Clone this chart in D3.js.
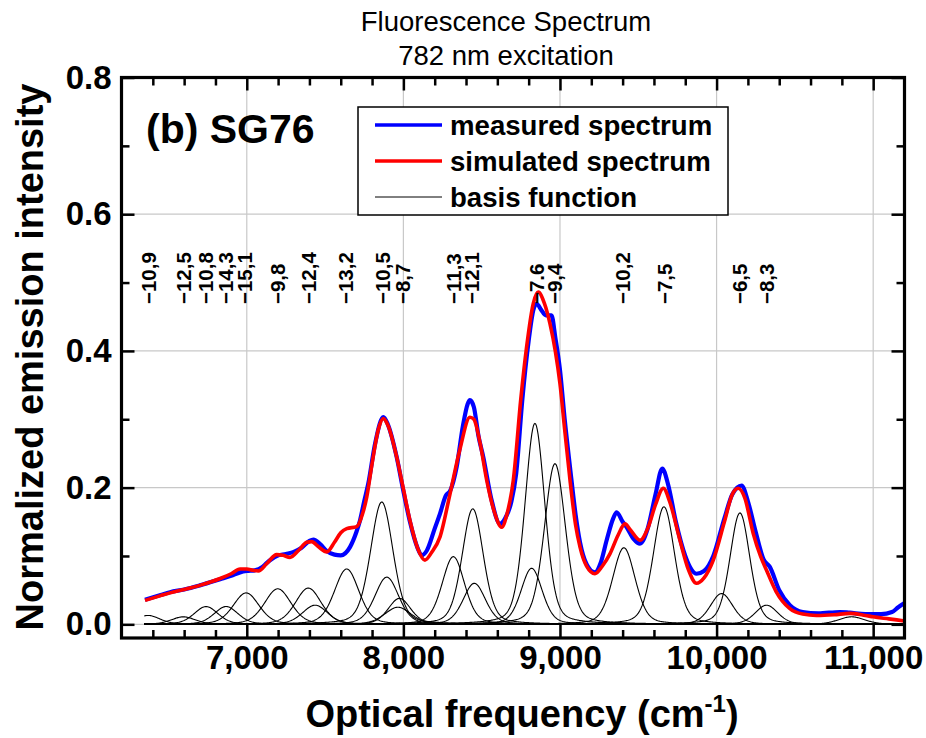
<!DOCTYPE html>
<html><head><meta charset="utf-8">
<script src="https://cdn.jsdelivr.net/npm/d3@7"></script>
<style>
body{margin:0;background:#fff}
text{font-family:"Liberation Sans",Arial,Helvetica,sans-serif;fill:#000}
</style>
</head><body>
<svg id="c" width="926" height="738"></svg>
<script>
// ---- data ----
const measured = [[6350,0.036],[6450,0.043],[6510,0.047],[6600,0.051],[6700,0.057],[6830,0.066],[6900,0.071],[6957,0.076],[7000,0.078],[7050,0.079],[7100,0.084],[7128,0.090],[7191,0.100],[7250,0.103],[7300,0.106],[7350,0.112],[7400,0.122],[7425,0.124],[7470,0.117],[7511,0.107],[7560,0.102],[7600,0.101],[7659,0.113],[7700,0.135],[7723,0.152],[7750,0.180],[7776,0.206],[7820,0.265],[7872,0.303],[7900,0.293],[7957,0.245],[8000,0.195],[8042,0.150],[8090,0.112],[8117,0.101],[8150,0.108],[8200,0.140],[8234,0.162],[8270,0.188],[8300,0.196],[8340,0.230],[8380,0.290],[8410,0.322],[8425,0.328],[8450,0.318],[8480,0.275],[8510,0.245],[8560,0.185],[8617,0.147],[8650,0.155],[8690,0.180],[8720,0.220],[8760,0.330],[8800,0.415],[8830,0.460],[8851,0.469],[8880,0.460],[8910,0.452],[8946,0.452],[8970,0.420],[9000,0.372],[9030,0.300],[9064,0.230],[9100,0.160],[9128,0.120],[9170,0.088],[9223,0.076],[9260,0.090],[9298,0.123],[9340,0.155],[9362,0.164],[9400,0.150],[9426,0.142],[9470,0.125],[9511,0.118],[9560,0.140],[9610,0.190],[9653,0.228],[9690,0.205],[9740,0.150],[9800,0.100],[9840,0.080],[9872,0.074],[9920,0.078],[9979,0.100],[10050,0.155],[10100,0.190],[10160,0.203],[10200,0.180],[10250,0.135],[10300,0.095],[10340,0.084],[10400,0.050],[10468,0.028],[10550,0.018],[10650,0.016],[10787,0.018],[10850,0.017],[10950,0.015],[11050,0.015],[11120,0.018],[11160,0.025],[11200,0.031]];

const simulated = [[6350,0.035],[6450,0.042],[6510,0.046],[6600,0.051],[6700,0.057],[6830,0.067],[6900,0.074],[6957,0.081],[7000,0.081],[7040,0.079],[7074,0.078],[7128,0.089],[7191,0.102],[7230,0.101],[7276,0.098],[7330,0.108],[7383,0.120],[7415,0.121],[7460,0.113],[7511,0.106],[7560,0.120],[7600,0.134],[7638,0.140],[7702,0.143],[7740,0.162],[7766,0.186],[7800,0.235],[7840,0.285],[7872,0.301],[7900,0.292],[7957,0.245],[8000,0.198],[8042,0.152],[8090,0.112],[8138,0.094],[8180,0.105],[8234,0.128],[8298,0.191],[8360,0.255],[8425,0.303],[8450,0.300],[8490,0.265],[8532,0.211],[8580,0.165],[8628,0.142],[8660,0.160],[8702,0.211],[8750,0.330],[8787,0.406],[8830,0.470],[8861,0.486],[8900,0.470],[8936,0.440],[8970,0.400],[9000,0.352],[9030,0.285],[9064,0.211],[9100,0.145],[9128,0.113],[9170,0.085],[9223,0.074],[9270,0.085],[9319,0.103],[9370,0.130],[9415,0.147],[9450,0.138],[9511,0.123],[9560,0.140],[9610,0.175],[9660,0.199],[9700,0.180],[9766,0.123],[9820,0.080],[9872,0.060],[9920,0.068],[9979,0.094],[10050,0.150],[10100,0.190],[10138,0.199],[10180,0.185],[10234,0.133],[10280,0.100],[10319,0.079],[10380,0.048],[10468,0.023],[10550,0.015],[10638,0.013],[10750,0.014],[10851,0.016],[10950,0.013],[11000,0.011],[11100,0.008],[11200,0.005]];

// basis functions: centre (cm-1), peak height, FWHM (cm-1)
const basisCenters = [6370,6595,6740,6868,6996,7198,7393,7436,7638,7862,7894,7975,7965,8319,8443,8453,8819,8840,8968,9408,9664,10032,10149,10319,10862];
const basisHeights = [0.013,0.011,0.026,0.026,0.046,0.052,0.053,0.028,0.081,0.179,0.069,0.038,0.025,0.099,0.169,0.060,0.082,0.294,0.235,0.112,0.172,0.045,0.163,0.028,0.011];
const basisWidths  = [180,180,180,180,195,200,195,190,185,170,180,170,200,170,160,170,160,150,160,170,160,170,150,170,200];

// peak annotations
const peakLabels = ["\u221210,9","\u221212,5","\u221210,8","\u221214,3","\u221215,1","\u22129,8","\u221212,4","\u221213,2","\u221210,5","\u22128,7","\u221211,3","\u221212,1","\u22127.6","\u22129,4","\u221210,2","\u22127,5","\u22126,5","\u22128,3"];
const peakPositions = [6376,6595,6740,6868,6989,7195,7398,7632,7866,7993,8319,8436,8851,8968,9397,9665,10148,10319];

const xMajorTicks = [7000,8000,9000,10000,11000];
const xMinorTicks = [6400,6600,6800,7200,7400,7600,7800,8200,8400,8600,8800,9200,9400,9600,9800,10200,10400,10600,10800];
const yMajorTicks = [0.0,0.2,0.4,0.6,0.8];
const yMinorTicks = [0.1,0.3,0.5,0.7];

const legendItems = [
  {label:"measured spectrum", color:"#0000ff", width:3.5},
  {label:"simulated spectrum", color:"#ff0000", width:3.5},
  {label:"basis function", color:"#000000", width:1}
];

// ---- drawing ----
const svg = d3.select("#c");
const L = 121.5, R = 904.5, T = 77.5, B = 638;
const x = d3.scaleLinear().domain([6200,11200]).range([L,R]);
const y = d3.scaleLinear().domain([-0.02,0.8]).range([B,T]);

svg.append("rect").attr("width",926).attr("height",738).attr("fill","#fff");

svg.append("defs").append("clipPath").attr("id","clip")
  .append("rect").attr("x",L).attr("y",T).attr("width",R-L).attr("height",B-T);

// grid
const grid = svg.append("g").attr("stroke","#c8c8c8").attr("stroke-width",1.2);
xMajorTicks.forEach(t=>grid.append("line").attr("x1",x(t)).attr("x2",x(t)).attr("y1",T).attr("y2",B));
yMajorTicks.filter(t=>t<0.8).forEach(t=>grid.append("line").attr("x1",L).attr("x2",R).attr("y1",y(t)).attr("y2",y(t)));

const plot = svg.append("g").attr("clip-path","url(#clip)");

// basis functions
const eta = 0.3;
const fGrid = d3.range(6345, 11201, 5);
basisCenters.forEach((c,i)=>{
  const h = basisHeights[i], hw = basisWidths[i]/2;
  const pts = fGrid.map(f=>{
    const u = (f-c)/hw;
    return [f, h*(eta/(1+u*u) + (1-eta)*Math.exp(-Math.LN2*u*u))];
  });
  plot.append("path").datum(pts)
    .attr("fill","none").attr("stroke","#000").attr("stroke-width",1.1)
    .attr("d", d3.line().x(d=>x(d[0])).y(d=>y(d[1])));
});

const line = d3.line().x(d=>x(d[0])).y(d=>y(d[1])).curve(d3.curveMonotoneX);
plot.append("path").datum(measured).attr("fill","none").attr("stroke","#0000ff")
  .attr("stroke-width",4.2).attr("stroke-linejoin","round").attr("d",line);
plot.append("path").datum(simulated).attr("fill","none").attr("stroke","#ff0000")
  .attr("stroke-width",3.6).attr("stroke-linejoin","round").attr("d",line);

// axes
function styleAxis(g){
  g.select(".domain").remove();
  g.selectAll(".tick line").attr("stroke","#000").attr("stroke-width",2.5);
}
const fs = 33;
svg.append("g").attr("transform",`translate(0,${B})`)
  .call(d3.axisBottom(x).tickValues(xMajorTicks).tickSize(-13).tickPadding(8).tickFormat(d3.format(",")))
  .call(styleAxis)
  .selectAll("text").attr("font-size",fs).attr("font-weight","bold").attr("font-family","Liberation Sans, Arial, sans-serif");
svg.append("g").attr("transform",`translate(0,${B})`)
  .call(d3.axisBottom(x).tickValues(xMinorTicks).tickSize(-8).tickFormat(""))
  .call(styleAxis);
svg.append("g").attr("transform",`translate(0,${T})`)
  .call(d3.axisTop(x).tickValues(xMajorTicks).tickSize(-13).tickFormat(""))
  .call(styleAxis);
svg.append("g").attr("transform",`translate(0,${T})`)
  .call(d3.axisTop(x).tickValues(xMinorTicks).tickSize(-8).tickFormat(""))
  .call(styleAxis);
svg.append("g").attr("transform",`translate(${L},0)`)
  .call(d3.axisLeft(y).tickValues(yMajorTicks).tickSize(-13).tickPadding(10).tickFormat(d3.format(".1f")))
  .call(styleAxis)
  .selectAll("text").attr("font-size",fs).attr("font-weight","bold").attr("font-family","Liberation Sans, Arial, sans-serif");
svg.append("g").attr("transform",`translate(${L},0)`)
  .call(d3.axisLeft(y).tickValues(yMinorTicks).tickSize(-8).tickFormat(""))
  .call(styleAxis);
svg.append("g").attr("transform",`translate(${R},0)`)
  .call(d3.axisRight(y).tickValues(yMajorTicks).tickSize(-13).tickFormat(""))
  .call(styleAxis);
svg.append("g").attr("transform",`translate(${R},0)`)
  .call(d3.axisRight(y).tickValues(yMinorTicks).tickSize(-8).tickFormat(""))
  .call(styleAxis);

// frame
svg.append("rect").attr("x",L).attr("y",T).attr("width",R-L).attr("height",B-T)
  .attr("fill","none").attr("stroke","#000").attr("stroke-width",3.2);

// peak labels
peakLabels.forEach((lab,i)=>{
  svg.append("text").attr("transform",`translate(${x(peakPositions[i])},304) rotate(-90)`)
    .attr("dy","0.36em").attr("font-size",20.5).attr("font-weight","bold").text(lab);
});

// legend
const lg = svg.append("g");
lg.append("rect").attr("x",358).attr("y",107).attr("width",370).attr("height",108)
  .attr("fill","#fff").attr("stroke","#000").attr("stroke-width",1.5);
legendItems.forEach((it,i)=>{
  const yy = 125 + i*36;
  lg.append("line").attr("x1",375).attr("x2",442).attr("y1",yy).attr("y2",yy)
    .attr("stroke",it.color).attr("stroke-width",it.width);
  lg.append("text").attr("x",450).attr("y",yy).attr("dy","0.36em")
    .attr("font-size",27.6).attr("font-weight","bold").text(it.label);
});

// panel label
svg.append("text").attr("x",146).attr("y",143).attr("font-size",41).attr("font-weight","bold").text("(b) SG76");

// titles
svg.append("text").attr("x",506).attr("y",31).attr("text-anchor","middle").attr("font-size",27.5).text("Fluorescence Spectrum");
svg.append("text").attr("x",506).attr("y",65).attr("text-anchor","middle").attr("font-size",27.5).text("782 nm excitation");

// axis titles
svg.append("text").attr("transform","translate(43,357) rotate(-90)").attr("text-anchor","middle")
  .attr("font-size",38).attr("font-weight","bold").text("Normalized emission intensity");
const xt = svg.append("text").attr("x",522).attr("y",727).attr("text-anchor","middle")
  .attr("font-size",38).attr("font-weight","bold");
xt.append("tspan").text("Optical frequency (cm");
xt.append("tspan").attr("dy",-15).attr("font-size",24).text("-1");
xt.append("tspan").attr("dy",15).text(")");
</script>
</body></html>
